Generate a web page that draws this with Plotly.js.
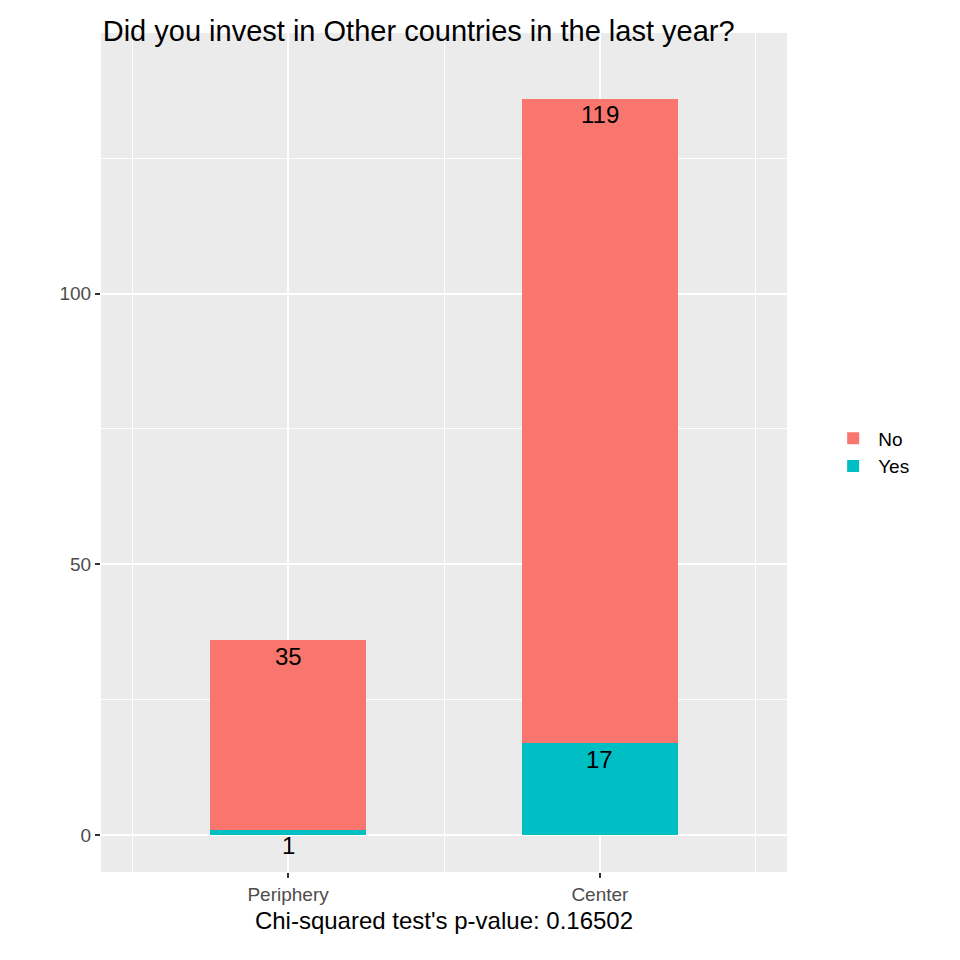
<!DOCTYPE html>
<html>
<head>
<meta charset="utf-8">
<script src="https://cdn.plot.ly/plotly-3.0.1.min.js"></script>
<style>body{margin:0}#chart{width:960px;height:960px}</style>
</head>
<body>
<div id="chart"></div>
<script>
var categories = ["Periphery", "Center"];
var catPos = [1, 2];
var yesCounts = [1, 17];
var noCounts = [35, 119];

var traceYes = {
  x: catPos, y: yesCounts, name: "Yes", type: "bar", width: 0.5,
  marker: {color: "#00BFC4"}, hoverinfo: "y"
};
var traceNo = {
  x: catPos, y: noCounts, name: "No", type: "bar", width: 0.5,
  marker: {color: "#F8766D"}, hoverinfo: "y"
};

var annotations = [];
for (var i = 0; i < catPos.length; i++) {
  annotations.push({x: catPos[i], y: yesCounts[i], text: String(yesCounts[i]),
    showarrow: false, yshift: -16, font: {size: 24, color: "#000"}});
  annotations.push({x: catPos[i], y: yesCounts[i] + noCounts[i], text: String(noCounts[i]),
    showarrow: false, yshift: -16, font: {size: 24, color: "#000"}});
}

var layout = {
  width: 960, height: 960,
  barmode: "stack",
  paper_bgcolor: "#fff", plot_bgcolor: "#EBEBEB",
  margin: {l: 101, r: 173, t: 33, b: 88},
  font: {family: "Liberation Sans, Arial, sans-serif"},
  title: {text: "Did you invest in Other countries in the last year?", x: 0.107, xanchor: "left",
    y: 0.968, yanchor: "middle", font: {size: 29, color: "#000"}},
  xaxis: {range: [0.4, 2.6], tickvals: catPos, ticktext: categories,
    gridcolor: "#fff", gridwidth: 2.2, zeroline: false,
    ticks: "outside", ticklen: 5, tickcolor: "#333", tickwidth: 1.5,
    tickfont: {size: 19, color: "#4D4D4D"},
    minor: {tickvals: [0.5, 1.5, 2.5], showgrid: true, gridcolor: "#fff", gridwidth: 1.1, ticks: ""},
    title: {text: "Chi-squared test's p-value: 0.16502", font: {size: 24, color: "#000"}, standoff: 8}},
  yaxis: {range: [-6.8, 148.1], tickvals: [0, 50, 100],
    gridcolor: "#fff", gridwidth: 2.2, zeroline: false,
    ticks: "outside", ticklen: 5, tickcolor: "#333", tickwidth: 1.5,
    tickfont: {size: 19, color: "#4D4D4D"},
    minor: {tickvals: [25, 75, 125], showgrid: true, gridcolor: "#fff", gridwidth: 1.1, ticks: ""}},
  legend: {x: 1.06, y: 0.5, yanchor: "middle", xanchor: "left",
    font: {size: 19, color: "#000"}, itemwidth: 40},
  annotations: annotations,
  bargap: 0
};

Plotly.newPlot("chart", [traceYes, traceNo], layout, {displayModeBar: false});
</script>
</body>
</html>
